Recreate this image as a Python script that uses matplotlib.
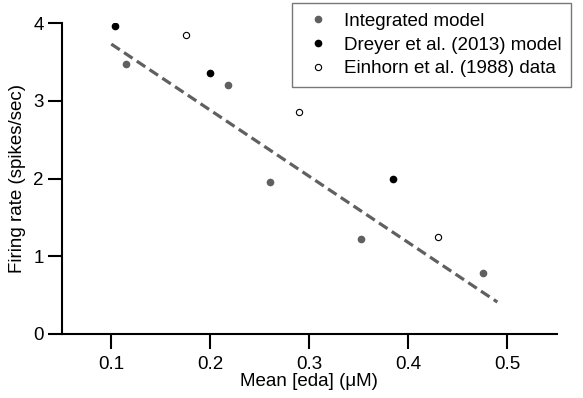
import matplotlib.pyplot as plt
from matplotlib.lines import Line2D

plt.rcParams['font.family'] = ['Liberation Sans', 'DejaVu Sans']

# Integrated model
integ_x = [0.115, 0.218, 0.260, 0.352, 0.475]
integ_y = [3.47, 3.20, 1.95, 1.22, 0.79]

# Dreyer et al. (2013) model
dreyer_x = [0.104, 0.200, 0.385]
dreyer_y = [3.96, 3.36, 2.00]

# Einhorn et al. (1988) data
einhorn_x = [0.175, 0.290, 0.430]
einhorn_y = [3.85, 2.85, 1.25]

# linear fit (dashed)
fit_x = [0.100, 0.490]
fit_y = [3.73, 0.41]

gray = '#606060'
fs = 13.5

fig = plt.figure(figsize=(5.83, 3.98), dpi=100)
ax = fig.add_axes([0.106, 0.161, 0.849, 0.781])

ax.plot(fit_x, fit_y, ls=(0, (3.2, 1.6)), color=gray, lw=2.3, zorder=1)
ax.plot(integ_x, integ_y, 'o', color=gray, ms=4.5, ls='none', zorder=2)
ax.plot(dreyer_x, dreyer_y, 'o', color='black', ms=4.5, ls='none', zorder=2)
ax.plot(einhorn_x, einhorn_y, 'o', mfc='white', mec='black', mew=0.8, ms=4.5,
        ls='none', zorder=2)

ax.set_xlim(0.05, 0.55)
ax.set_ylim(0, 4)
ax.set_xticks([0.1, 0.2, 0.3, 0.4, 0.5])
ax.set_xticklabels(['0.1', '0.2', '0.3', '0.4', '0.5'])
ax.set_yticks([0, 1, 2, 3, 4])

for s in ['top', 'right']:
    ax.spines[s].set_visible(False)
for s in ['left', 'bottom']:
    ax.spines[s].set_linewidth(1.5)
ax.tick_params(axis='both', direction='out', length=10, width=1.5,
               labelsize=fs, pad=3, colors='black')
ax.tick_params(axis='x', length=11, pad=5)

ax.set_xlabel('Mean [eda] (\u03bcM)', fontsize=fs, labelpad=0)
ax.set_ylabel('Firing rate (spikes/sec)', fontsize=fs, labelpad=5)

handles = [
    Line2D([], [], marker='o', color=gray, ls='none', ms=4.5),
    Line2D([], [], marker='o', color='black', ls='none', ms=4.5),
    Line2D([], [], marker='o', mfc='white', mec='black', mew=0.8, ls='none', ms=4.5),
]
labels = ['Integrated model', 'Dreyer et al. (2013) model', 'Einhorn et al. (1988) data']
leg = fig.legend(handles, labels, loc='upper left',
                 bbox_to_anchor=(0.5, 0.992), fontsize=fs, frameon=True,
                 fancybox=False, handletextpad=0.5, borderpad=0.5,
                 labelspacing=0.36, handlelength=1.8, borderaxespad=0)
leg.get_frame().set_edgecolor('#555555')
leg.get_frame().set_linewidth(1.0)

fig.savefig('out.png', dpi=100)
